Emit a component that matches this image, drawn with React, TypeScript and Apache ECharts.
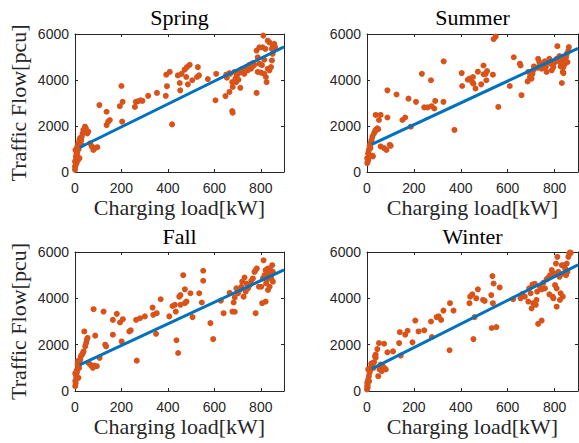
import React, { useEffect, useRef } from "react";
import * as echarts from "echarts";

// [Charging load kW, Traffic Flow pcu]
const springData: number[][] = [
  [0, 240], [0, 460], [4, 680], [7, 820], [2, 960], [10, 1110], [14, 1250], [19, 1400], [22, 1470], [29, 1540],
  [33, 1680], [36, 1830], [43, 1970], [47, 1900], [53, 1680], [57, 1760], [14, 530], [19, 600], [0, 100], [7, 390],
  [24, 1320], [29, 1180], [10, 890], [65, 1250], [72, 1110], [79, 960], [86, 1040], [96, 1080], [105, 2910], [136, 2620],
  [143, 2190], [150, 2260], [136, 2040], [193, 2860], [200, 3740], [205, 3050], [203, 2190], [258, 2830], [262, 3050], [272, 3080],
  [283, 3120], [290, 3090], [315, 3310], [353, 3440], [391, 3310], [396, 3730], [393, 4230], [408, 4350], [418, 2070], [443, 4200],
  [451, 3870], [453, 3550], [459, 4270], [472, 4450], [479, 4130], [482, 4560], [494, 4660], [505, 3990], [486, 3810], [529, 4560],
  [534, 4200], [525, 4130], [572, 4040], [608, 4270], [605, 3120], [648, 3300], [651, 4230], [665, 3480], [668, 4270], [677, 3910],
  [677, 2650], [679, 2580], [687, 4350], [691, 4060], [697, 4200], [705, 4300], [712, 3660], [715, 4450], [722, 4330], [737, 4560],
  [744, 4420], [751, 4660], [758, 4490], [765, 4730], [772, 4660], [782, 3440], [782, 5280], [787, 4350], [794, 4710], [801, 4320],
  [805, 4650], [808, 5420], [811, 5930], [815, 4880], [815, 4270], [820, 5350], [822, 4130], [825, 3910], [830, 4490], [837, 4420],
  [844, 4560], [848, 4850], [851, 5140], [848, 5350], [858, 5570], [862, 5420], [837, 5640], [830, 5710], [794, 5420], [765, 4590],
  [665, 4300], [654, 4100], [679, 3700], [694, 3910], [704, 4010], [722, 4490], [729, 4270], [748, 4630], [787, 4990], [851, 5500],
  [3, 300], [5, 560], [9, 740], [16, 1000], [20, 1150], [27, 1400],
];
const summerData: number[][] = [
  [1, 390], [1, 600], [5, 820], [8, 960], [11, 1110], [15, 1250], [20, 1400], [23, 1540], [30, 1680], [34, 1760],
  [37, 1830], [44, 1900], [48, 1860], [5, 530], [11, 750], [23, 710], [25, 680], [15, 1040], [37, 2480], [58, 2480],
  [51, 2260], [87, 2370], [87, 3550], [58, 1110], [73, 1040], [83, 960], [97, 1180], [101, 1140], [126, 3370], [151, 2260],
  [163, 2370], [177, 3190], [187, 1970], [209, 3050], [234, 4270], [244, 2810], [259, 2810], [273, 3990], [276, 2860], [287, 2760],
  [291, 3090], [326, 3050], [327, 4810], [373, 1830], [404, 4300], [406, 3740], [430, 4010], [437, 4060], [449, 3910], [452, 4130],
  [454, 3840], [463, 3630], [473, 4360], [487, 3810], [497, 4630], [497, 4250], [506, 4270], [509, 3990], [512, 4390], [537, 4230],
  [540, 5780], [549, 5890], [560, 2830], [609, 3740], [626, 4990], [652, 4710], [655, 4630], [659, 3340], [685, 3940], [688, 4350],
  [695, 4130], [702, 4060], [706, 4270], [709, 4420], [712, 4590], [726, 4530], [730, 4920], [735, 4780], [745, 4490], [752, 4710],
  [759, 4810], [766, 4350], [769, 4780], [778, 4920], [783, 4710], [788, 4420], [795, 4560], [802, 4780], [809, 4920], [812, 5470],
  [821, 5040], [823, 4780], [826, 4590], [831, 3870], [835, 4350], [838, 4560], [841, 4850], [845, 4710], [849, 4990], [852, 5140],
  [855, 4780], [859, 5280], [861, 5430], [838, 4300], [831, 4990], [763, 4560], [738, 4710],
  [3, 450], [7, 700], [13, 1180], [18, 1330],
];
const fallData: number[][] = [
  [1, 210], [1, 430], [5, 640], [8, 790], [11, 930], [15, 1070], [20, 1210], [23, 1360], [25, 1500], [30, 1570],
  [34, 1640], [5, 500], [15, 570], [1, 760], [11, 1140], [37, 1710], [44, 1930], [51, 2210], [54, 2290], [48, 2070],
  [40, 2570], [58, 1210], [66, 1140], [73, 1070], [77, 1000], [83, 1100], [94, 1070], [106, 1430], [80, 3530], [87, 2390],
  [123, 3430], [130, 2000], [134, 1930], [163, 3070], [163, 2430], [180, 3330], [194, 2960], [206, 3100], [201, 2140], [234, 2570],
  [240, 2620], [266, 1310], [263, 3070], [280, 3140], [301, 3220], [334, 3600], [337, 3290], [352, 3360], [349, 2470], [369, 3960],
  [406, 3220], [420, 3670], [430, 3720], [434, 3430], [437, 2190], [444, 1640], [449, 4070], [454, 4140], [454, 3720], [466, 5000],
  [473, 4390], [473, 3790], [480, 3860], [497, 4220], [506, 3190], [535, 4220], [546, 3820], [552, 5190], [552, 4760], [583, 2930],
  [595, 2240], [628, 3900], [640, 3360], [666, 4240], [678, 3430], [688, 3420], [683, 3820], [688, 4040], [695, 4430], [702, 4220],
  [709, 4360], [716, 4500], [720, 4720], [726, 4070], [730, 4900], [735, 4290], [738, 4640], [745, 4430], [752, 4570], [759, 4760],
  [766, 4860], [773, 5140], [778, 3360], [778, 5220], [783, 5290], [792, 4500], [802, 4500], [806, 3790], [809, 4860], [812, 5640],
  [816, 5000], [821, 3860], [821, 5220], [823, 4640], [826, 4790], [831, 4360], [835, 5070], [838, 4500], [841, 5220], [845, 4860],
  [849, 5430], [852, 5140], [852, 4720], [845, 5000], [831, 5290],
  [3, 330], [7, 880], [13, 1300], [18, 1000],
];
const winterData: number[][] = [
  [0, 70], [1, 210], [1, 360], [5, 500], [8, 640], [11, 790], [5, 930], [15, 1000], [20, 1070], [23, 1140],
  [25, 1210], [30, 1240], [34, 1500], [37, 1570], [44, 1810], [51, 2070], [73, 2040], [37, 1430], [48, 640], [54, 930],
  [58, 1140], [66, 1070], [73, 1000], [80, 930], [63, 860], [87, 1670], [111, 1710], [137, 2070], [140, 2540], [144, 1530],
  [163, 2430], [173, 2600], [194, 2100], [206, 3040], [220, 2570], [244, 2620], [273, 3000], [277, 2330], [297, 3190], [306, 3220],
  [316, 3070], [326, 3470], [352, 1760], [354, 3790], [369, 3470], [437, 3790], [440, 4070], [449, 4170], [454, 2240], [459, 3190],
  [466, 4000], [473, 4390], [495, 3930], [502, 3890], [530, 4140], [535, 4960], [537, 3790], [540, 4640], [532, 2720], [552, 2760],
  [566, 4470], [623, 3960], [655, 4000], [663, 4190], [673, 4070], [688, 3860], [692, 4430], [698, 4220], [702, 3570], [706, 4600],
  [709, 3790], [716, 4620], [720, 3720], [723, 3930], [726, 4290], [730, 2900], [738, 4500], [745, 3040], [745, 4390], [752, 4670],
  [759, 4430], [766, 4820], [773, 4900], [778, 4170], [781, 5000], [788, 5220], [792, 4070], [795, 4000], [802, 4570], [806, 5500],
  [809, 4430], [812, 5790], [816, 5140], [821, 4930], [823, 3930], [826, 4220], [831, 5430], [835, 4070], [838, 5070], [841, 5430],
  [845, 5290], [849, 5000], [852, 5500], [855, 5140], [859, 5790], [863, 5930], [866, 5980], [869, 5960], [798, 5070], [809, 3640],
  [3, 150], [3, 280], [9, 420], [13, 880], [18, 1180], [28, 1000],
];

// fitted line end points [kW, pcu]
const springFit: number[][] = [[20, 1065], [900, 5440]];
const summerFit: number[][] = [[20, 1205], [900, 5376]];
const fallFit: number[][] = [[20, 1123], [900, 5233]];
const winterFit: number[][] = [[20, 955], [900, 5443]];

const seasons = ["Spring", "Summer", "Fall", "Winter"];
const scatterSets = [springData, summerData, fallData, winterData];
const fitSets = [springFit, summerFit, fallFit, winterFit];

const xName = "Charging load[kW]";
const yName = "Traffic Flow[pcu]";

const SERIF = "'Liberation Serif', 'Times New Roman', serif";
const SANS = "'Liberation Sans', Arial, sans-serif";
const AX = "#262626";

const grids = [
  { left: 75, top: 34, width: 209, height: 138 },
  { left: 367, top: 34, width: 211, height: 138 },
  { left: 75, top: 252, width: 209, height: 139 },
  { left: 367, top: 252, width: 211, height: 139 },
];
const titleTops = [6, 6, 225, 225];

export default function App() {
  const ref = useRef<HTMLDivElement>(null);
  useEffect(() => {
    if (!ref.current) return;
    const chart = echarts.init(ref.current, undefined, { renderer: "svg" });
    const xAxes: any[] = [];
    const yAxes: any[] = [];
    const series: any[] = [];
    const titles: any[] = [];
    const plain = (v: number) => String(v);
    grids.forEach((g, i) => {
      const axLine = { show: true, onZero: false, lineStyle: { color: AX, width: 1 } };
      const tick = { show: true, inside: true, length: 3, lineStyle: { color: AX, width: 1 } };
      xAxes.push({
        gridIndex: i, type: "value", min: 0, max: 900, interval: 200, position: "bottom",
        axisLine: axLine, axisTick: tick, splitLine: { show: false },
        axisLabel: { color: AX, fontSize: 14, fontFamily: SANS, margin: 9, showMaxLabel: false, formatter: plain },
        name: xName, nameLocation: "middle", nameGap: 24,
        nameTextStyle: { fontFamily: SERIF, fontSize: 22, color: AX },
      });
      xAxes.push({
        gridIndex: i, type: "value", min: 0, max: 900, interval: 200, position: "top",
        axisLine: axLine, axisTick: tick, splitLine: { show: false }, axisLabel: { show: false },
      });
      yAxes.push({
        gridIndex: i, type: "value", min: 0, max: 6000, interval: 2000, position: "left",
        axisLine: axLine, axisTick: tick, splitLine: { show: false },
        axisLabel: { color: AX, fontSize: 14, fontFamily: SANS, margin: 6, formatter: plain },
        name: i % 2 === 0 ? yName : "", nameLocation: "middle", nameGap: 46,
        nameTextStyle: { fontFamily: SERIF, fontSize: 22, color: AX },
      });
      yAxes.push({
        gridIndex: i, type: "value", min: 0, max: 6000, interval: 2000, position: "right",
        axisLine: axLine, axisTick: tick, splitLine: { show: false }, axisLabel: { show: false },
      });
      titles.push({
        text: seasons[i], left: g.left + g.width / 2, top: titleTops[i], textAlign: "center", padding: 0,
        textStyle: { fontFamily: SERIF, fontSize: 22, fontWeight: "normal", color: "#000" },
      });
      series.push({
        type: "scatter", xAxisIndex: 2 * i, yAxisIndex: 2 * i, data: scatterSets[i],
        symbol: "circle", symbolSize: 6, itemStyle: { color: "#D95319", opacity: 1 }, clip: true, z: 2,
      });
      series.push({
        type: "line", xAxisIndex: 2 * i, yAxisIndex: 2 * i, data: fitSets[i],
        symbol: "none", showSymbol: false, lineStyle: { color: "#0072BD", width: 3 }, clip: true, z: 3,
      });
    });
    chart.setOption({
      animation: false,
      backgroundColor: "#ffffff",
      title: titles,
      grid: grids.map((g) => ({ ...g, containLabel: false })),
      xAxis: xAxes,
      yAxis: yAxes,
      series,
    });
    return () => chart.dispose();
  }, []);
  return (
    <div
      ref={ref}
      style={{ position: "fixed", left: 0, top: 0, width: 579, height: 443, background: "#fff" }}
    />
  );
}
